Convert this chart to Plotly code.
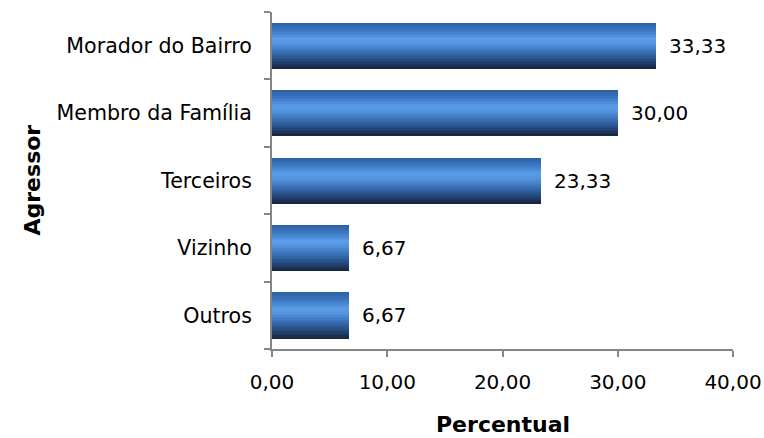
import plotly.graph_objects as go

# Agressor categories, listed bottom to top
categories = ["Outros", "Vizinho", "Terceiros", "Membro da Família", "Morador do Bairro"]
percent = [6.67, 6.67, 23.33, 30.00, 33.33]
x_ticks = [0, 10, 20, 30, 40]

FONT = "DejaVu Sans, Verdana, sans-serif"
BAR_W = 0.677

# vertical shading stops of each bar: (fraction from top, colour)
stops = [(0.00, (0x2d, 0x5f, 0xa3)), (0.15, (0x3a, 0x74, 0xbf)),
         (0.35, (0x5a, 0x9d, 0xe8)), (0.45, (0x55, 0x95, 0xdf)),
         (0.60, (0x3f, 0x78, 0xc0)), (0.75, (0x2d, 0x5a, 0x97)),
         (0.90, (0x1e, 0x3a, 0x63)), (1.00, (0x15, 0x24, 0x3b))]


def shade_at(t):
    for (t0, c0), (t1, c1) in zip(stops[:-1], stops[1:]):
        if t0 <= t <= t1:
            k = (t - t0) / (t1 - t0)
            r, g, b = (round(a + (bb - a) * k) for a, bb in zip(c0, c1))
            return f"rgb({r},{g},{b})"
    return "rgb(21,36,59)"


fig = go.Figure()
n = 30
step = BAR_W / n
# each band runs from its own top edge down to the bar bottom; lower bands are drawn over upper ones
for i in range(n):
    fig.add_trace(go.Bar(
        x=percent, y=categories, orientation="h",
        width=BAR_W - i * step, offset=-BAR_W / 2,
        marker=dict(color=shade_at((i + 0.5) / n), line=dict(width=0)),
        hoverinfo="skip", showlegend=False,
    ))

for cat, v in zip(categories, percent):
    fig.add_annotation(
        x=v, y=cat, xref="x", yref="y", text=f"{v:.2f}".replace(".", ","),
        showarrow=False, xanchor="left", xshift=11,
        font=dict(family=FONT, size=20, color="#000000"),
    )

fig.add_annotation(
    xref="paper", yref="paper", x=0.5, y=0, yshift=-90, xanchor="center", yanchor="bottom",
    text="<b>Percentual</b>", showarrow=False,
    font=dict(family=FONT, size=22, color="#000000"),
)
fig.add_annotation(
    xref="paper", yref="paper", x=0, y=0.5, xshift=-240, xanchor="center", yanchor="middle",
    text="<b>Agressor</b>", textangle=-90, showarrow=False,
    font=dict(family=FONT, size=22, color="#000000"),
)

fig.update_layout(
    width=764, height=438,
    margin=dict(l=272, r=31, t=12, b=89),
    barmode="overlay", bargap=0,
    separators=",.",
    plot_bgcolor="#ffffff", paper_bgcolor="#ffffff",
    font=dict(family=FONT, size=20, color="#000000"),
)
fig.update_xaxes(
    range=[0, 40], tickvals=x_ticks, tickformat=".2f", automargin=False,
    showgrid=False, zeroline=False,
    showline=True, linecolor="#868686", linewidth=2,
    ticks="outside", ticklen=6, tickcolor="#868686", tickwidth=2,
    ticklabelstandoff=8,
)
fig.update_yaxes(
    categoryorder="array", categoryarray=categories, range=[-0.5, 4.5], automargin=False,
    showgrid=False, zeroline=False,
    showline=True, linecolor="#868686", linewidth=2,
    ticks="outside", ticklen=6, tickcolor="#868686", tickwidth=2,
    tickson="boundaries", ticklabelstandoff=14,
    tickfont=dict(family=FONT, size=20.6, color="#000000"),
)

fig.write_html("out.html")
